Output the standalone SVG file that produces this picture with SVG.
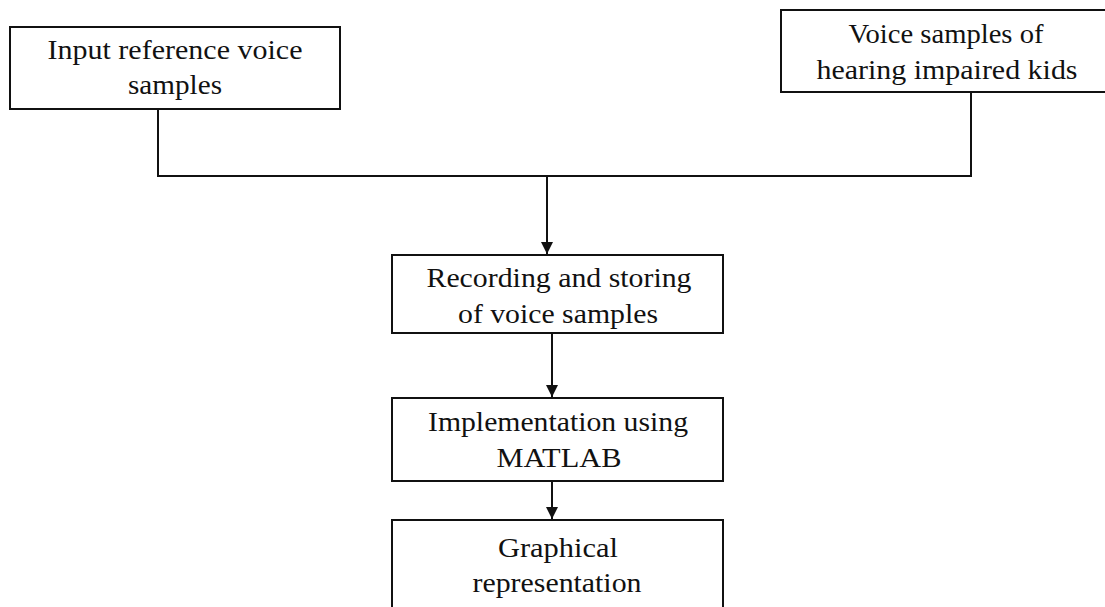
<svg xmlns="http://www.w3.org/2000/svg" width="1105" height="607" viewBox="0 0 1105 607">
<defs>
<style>
.box{fill:#fff;stroke:#111;stroke-width:2}
.t{font-family:'Liberation Serif','DejaVu Serif',serif;font-size:27px;fill:#111;text-anchor:middle}
.c{fill:none;stroke:#111;stroke-width:2}
</style>
<marker id="ah" viewBox="0 0 12 12" refX="12" refY="6" markerWidth="12" markerHeight="12" markerUnits="userSpaceOnUse" orient="auto">
<path d="M0,0 L12,6 L0,12 Z" fill="#111"/>
</marker>
</defs>
<rect width="1105" height="607" fill="#fff"/>
<g id="connectors">
<polyline class="c" points="158,109 158,176 971,176 971,92"/>
<line class="c" x1="547" y1="176" x2="547" y2="254" marker-end="url(#ah)"/>
<line class="c" x1="552" y1="333" x2="552" y2="397" marker-end="url(#ah)"/>
<line class="c" x1="552" y1="481" x2="552" y2="519" marker-end="url(#ah)"/>
</g>
<g id="n1">
<rect class="box" x="10" y="27" width="330" height="82"/>
<text class="t" x="175" y="59" textLength="255" lengthAdjust="spacingAndGlyphs">Input reference voice</text>
<text class="t" x="175" y="94" textLength="94" lengthAdjust="spacingAndGlyphs">samples</text>
</g>
<g id="n2">
<rect class="box" x="781" y="10" width="330" height="82"/>
<text class="t" x="946" y="43" textLength="195" lengthAdjust="spacingAndGlyphs">Voice samples of</text>
<text class="t" x="947" y="79" textLength="261" lengthAdjust="spacingAndGlyphs">hearing impaired kids</text>
</g>
<g id="n3">
<rect class="box" x="392" y="255" width="331" height="78"/>
<text class="t" x="559" y="287" textLength="265" lengthAdjust="spacingAndGlyphs">Recording and storing</text>
<text class="t" x="558" y="323" textLength="200" lengthAdjust="spacingAndGlyphs">of voice samples</text>
</g>
<g id="n4">
<rect class="box" x="392" y="398" width="331" height="83"/>
<text class="t" x="558" y="431" textLength="260" lengthAdjust="spacingAndGlyphs">Implementation using</text>
<text class="t" x="559" y="467" textLength="125" lengthAdjust="spacingAndGlyphs">MATLAB</text>
</g>
<g id="n5">
<rect class="box" x="392" y="520" width="331" height="100"/>
<text class="t" x="558" y="557" textLength="120" lengthAdjust="spacingAndGlyphs">Graphical</text>
<text class="t" x="557" y="592" textLength="169" lengthAdjust="spacingAndGlyphs">representation</text>
</g>
</svg>
